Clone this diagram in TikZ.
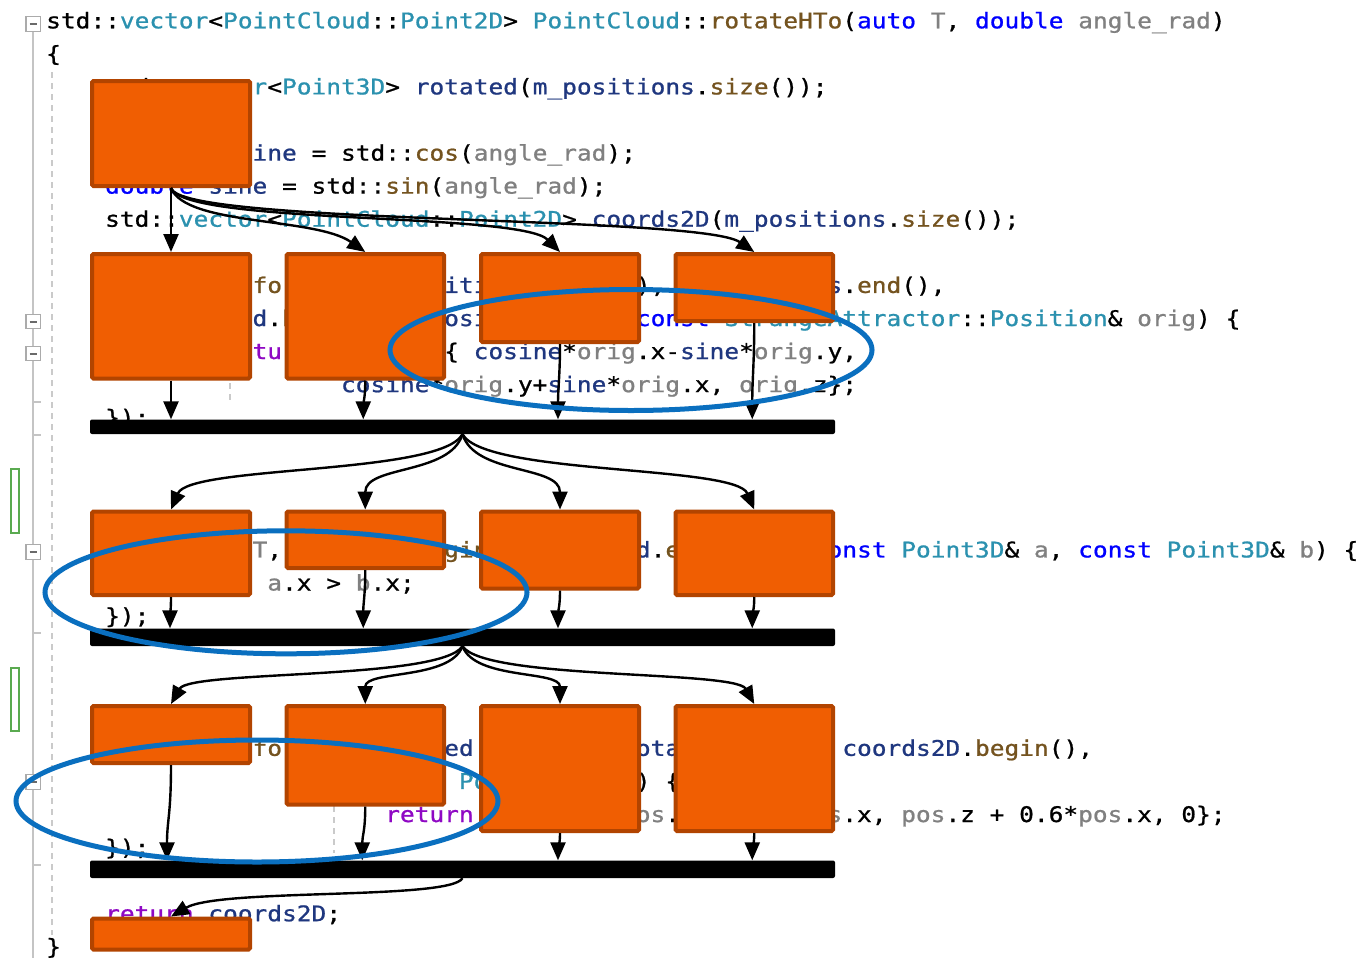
\documentclass[tikz,border=0pt]{standalone}
\usepackage{fontspec}
\usetikzlibrary{arrows.meta,shapes.geometric}
\newfontfamily\codefont{DejaVu Sans Mono}[FakeStretch=1.139, FakeBold=0.9]

\definecolor{kwblue}{HTML}{0000FF}
\definecolor{tyteal}{HTML}{2B91AF}
\definecolor{fnbrown}{HTML}{74531F}
\definecolor{pagray}{HTML}{808080}
\definecolor{lvnavy}{HTML}{1F377F}
\definecolor{rtpurple}{HTML}{8F08C4}
\definecolor{boxfill}{HTML}{F05E02}
\definecolor{boxedge}{HTML}{B24400}
\definecolor{ringblue}{HTML}{0A6FBF}
\definecolor{guttergray}{HTML}{C4C4C4}
\definecolor{guidegray}{HTML}{CACACA}
\definecolor{foldgray}{HTML}{ABABAB}
\definecolor{minusgray}{HTML}{6A6A6A}
\definecolor{changegreen}{HTML}{5AAA50}

% syntax colouring
\newcommand\cdkw[1]{\textcolor{kwblue}{#1}}
\newcommand\cdty[1]{\textcolor{tyteal}{#1}}
\newcommand\cdfn[1]{\textcolor{fnbrown}{#1}}
\newcommand\cdpa[1]{\textcolor{pagray}{#1}}
\newcommand\cdlv[1]{\textcolor{lvnavy}{#1}}
\newcommand\cdrt[1]{\textcolor{rtpurple}{#1}}

% task box / sync bar from corner coordinates
\newcommand\taskbox[5]{\node[obox, minimum width={(#4-#2-4)*1pt}, minimum height={(#5-#3-4)*1pt}] (#1) at ({(#2+#4)/2},{(#3+#5)/2}) {};}
\newcommand\syncbar[5]{\node[sbar, minimum width={(#4-#2)*1pt}, minimum height={(#5-#3)*1pt}] (#1) at ({(#2+#4)/2},{(#3+#5)/2}) {};}

\begin{document}
\begin{tikzpicture}[x=1pt,y=-1pt,
  obox/.style={rectangle, draw=boxedge, fill=boxfill, line width=4pt, rounded corners=1.5pt, inner sep=0pt},
  sbar/.style={rectangle, fill=black, rounded corners=2pt, inner sep=0pt},
  conn/.style={line width=2.4pt, -{Triangle[length=18pt,width=15pt]}},
  ring/.style={ellipse, draw=ringblue, line width=5pt, inner sep=0pt},
  code/.style={anchor=base west, inner sep=0pt, font=\codefont\fontsize{21.5}{25}\selectfont},
  fold/.style={rectangle, draw=foldgray, fill=white, line width=1.4pt, minimum size=14.5pt, inner sep=0pt},
  foldminus/.style={draw=minusgray, line width=2pt},
  guide/.style={draw=guidegray, line width=1.2pt, dash pattern=on 6pt off 5pt},
  gutter/.style={draw=guttergray, line width=2pt},
  changebar/.style={rectangle, draw=changegreen, fill=white, line width=1.8pt, minimum width=8pt, inner sep=0pt}
]
\useasboundingbox (0,0) rectangle (1367,958);
\fill[white] (0,0) rectangle (1367,958);

% ---- editor margin ----
\draw[guide] (52,72) -- (52,935);
\draw[guide] (230,372) -- (230,402);
\draw[guide] (334,806) -- (334,853);
\coordinate (gtop) at (33.3,30);
\coordinate (gbot) at (33.3,958);
\draw[gutter] (gtop) -- (gbot);
\draw[gutter] (33.3,402) -- (41,402);
\draw[gutter] (33.3,435) -- (41,435);
\draw[gutter] (33.3,633) -- (41,633);
\draw[gutter] (33.3,864.5) -- (41,864.5);
\foreach \n/\y in {f0/24, f9/321.5, f10/353.5, f16/552, f23/782}{
  \node[fold] (\n) at (33.3,\y) {};
  \draw[foldminus] ([xshift=-3.8pt]\n.center) -- ([xshift=3.8pt]\n.center);
}
\node[changebar, minimum height=64pt] (chg1) at (15,501) {};
\node[changebar, minimum height=63pt] (chg2) at (15,699.5) {};

% ---- source code ----
\node[code] (l0) at (46,28.3) {std::\cdty{vector}<\cdty{PointCloud}::\cdty{Point2D}> \cdty{PointCloud}::\cdfn{rotateHTo}(\cdkw{auto} \cdpa{T}, \cdkw{double} \cdpa{angle\_rad})};
\node[code] (l1) at (46,61.4) {\{};
\node[code] (l2) at (104.96,94.4) {std::\cdty{vector}<\cdty{Point3D}> \cdlv{rotated}(\cdlv{m\_positions}.\cdfn{size}());};
\node[code] (l4) at (104.96,160.6) {\cdkw{double} \cdlv{cosine} = std::\cdfn{cos}(\cdpa{angle\_rad});};
\node[code] (l5) at (104.96,193.6) {\cdkw{double} \cdlv{sine} = std::\cdfn{sin}(\cdpa{angle\_rad});};
\node[code] (l6) at (104.96,226.7) {std::\cdty{vector}<\cdty{PointCloud}::\cdty{Point2D}> \cdlv{coords2D}(\cdlv{m\_positions}.\cdfn{size}());};
\node[code] (l8) at (104.96,292.9) {std::\cdfn{transform}(\cdpa{T}, \cdlv{m\_positions}.\cdfn{begin}(), \cdlv{m\_positions}.\cdfn{end}(),};
\node[code] (l9) at (163.92,326) {\cdlv{rotated}.\cdfn{begin}(), [\cdlv{cosine}, \cdlv{sine}](\cdkw{const} \cdty{StrangeAttractor}::\cdty{Position}\& \cdpa{orig}) \{};
\node[code] (l10) at (222.88,359) {\cdrt{return} \cdty{Point3D} \{ \cdlv{cosine}*\cdpa{orig}.x-\cdlv{sine}*\cdpa{orig}.y,};
\node[code] (l11) at (340.8,392.1) {\cdlv{cosine}*\cdpa{orig}.y+\cdlv{sine}*\cdpa{orig}.x, \cdpa{orig}.z\};};
\node[code] (l12) at (104.96,425.1) {\});};
\node[code] (l16) at (104.96,557.4) {std::\cdfn{sort}(\cdpa{T}, \cdlv{rotated}.\cdfn{begin}(), \cdlv{rotated}.\cdfn{end}(), [](\cdkw{const} \cdty{Point3D}\& \cdpa{a}, \cdkw{const} \cdty{Point3D}\& \cdpa{b}) \{};
\node[code] (l17) at (163.92,590.5) {\cdrt{return} \cdpa{a}.x > \cdpa{b}.x;};
\node[code] (l18) at (104.96,623.6) {\});};
\node[code] (l22) at (104.96,755.8) {std::\cdfn{transform}(\cdpa{T}, \cdlv{rotated}.\cdfn{begin}(), \cdlv{rotated}.\cdfn{end}(), \cdlv{coords2D}.\cdfn{begin}(),};
\node[code] (l23) at (326.06,788.9) {[](\cdkw{const} \cdty{Point3D}\& \cdpa{pos}) \{};
\node[code] (l24) at (385.02,822) {\cdrt{return} \cdty{Point2D}\{ \cdpa{pos}.y + 0.3*\cdpa{pos}.x, \cdpa{pos}.z + 0.6*\cdpa{pos}.x, 0\};};
\node[code] (l25) at (104.96,855) {\});};
\node[code] (l27) at (104.96,921.2) {\cdrt{return} \cdlv{coords2D};};
\node[code] (l28) at (46,954.3) {\}};

% ---- task graph ----
\taskbox{A}{90}{79}{252}{188}
\taskbox{B1}{90}{252}{252}{380.5}
\taskbox{B2}{284.5}{252}{446}{380.5}
\taskbox{B3}{479}{252}{641}{344}
\taskbox{B4}{673.5}{252}{835}{323}
\syncbar{bar1}{90}{419.5}{835}{434}
\taskbox{C1}{90}{509.5}{252}{597}
\taskbox{C2}{284.5}{509.5}{446}{570}
\taskbox{C3}{479}{509.5}{641}{590.5}
\taskbox{C4}{673.5}{509.5}{835}{597}
\syncbar{bar2}{90}{628.5}{835}{646}
\taskbox{D1}{90}{704}{252}{765}
\taskbox{D2}{284.5}{704}{446}{806.5}
\taskbox{D3}{479}{704}{641}{833}
\taskbox{D4}{673.5}{704}{835}{833}
\syncbar{bar3}{90}{860.5}{835}{878}
\taskbox{E}{90}{916.5}{252}{951.5}

% fork from the first task
\draw[conn] (A.south) -- (B1.north);
\draw[conn] (A.south) .. controls +(15,38) and +(-50,-35) .. (B2.north);
\draw[conn] (A.south) .. controls +(14,37) and +(-40,-40) .. (B3.north);
\draw[conn] (A.south) .. controls +(9,37) and +(-54,-37) .. (B4.north);
% join into first barrier
\draw[conn] (B1.south) -- (B1.south |- bar1.north);
\draw[conn] (B2.south) .. controls +(0,18) and +(0,-16) .. ([xshift=-2pt]B2.south |- bar1.north);
\draw[conn] (B3.south) .. controls +(0,30) and +(0,-30) .. ([xshift=-2pt]B3.south |- bar1.north);
\draw[conn] (B4.south) .. controls +(0,40) and +(0,-40) .. ([xshift=-2pt]B4.south |- bar1.north);
% fork from first barrier
\draw[conn] (bar1.south) .. controls +(-22.5,41) and +(19,-44.5) .. (C1.north);
\draw[conn] (bar1.south) .. controls +(-12.5,41) and +(0,-44.5) .. (C2.north);
\draw[conn] (bar1.south) .. controls +(12.5,41) and +(0,-44.5) .. (C3.north);
\draw[conn] (bar1.south) .. controls +(22.5,41) and +(-19,-44.5) .. (C4.north);
% join into second barrier
\draw[conn] (C1.south) .. controls +(0,14) and +(0,-14) .. ([xshift=-1pt]C1.south |- bar2.north);
\draw[conn] (C2.south) .. controls +(0,25) and +(0,-25) .. ([xshift=-2pt]C2.south |- bar2.north);
\draw[conn] (C3.south) .. controls +(0,16) and +(0,-16) .. ([xshift=-2pt]C3.south |- bar2.north);
\draw[conn] (C4.south) .. controls +(0,14) and +(0,-14) .. ([xshift=-2pt]C4.south |- bar2.north);
% fork from second barrier
\draw[conn] (bar2.south) .. controls +(-22.5,34) and +(19,-34) .. (D1.north);
\draw[conn] (bar2.south) .. controls +(-12.5,34) and +(0,-34) .. (D2.north);
\draw[conn] (bar2.south) .. controls +(12.5,34) and +(0,-34) .. (D3.north);
\draw[conn] (bar2.south) .. controls +(22.5,34) and +(-19,-34) .. (D4.north);
% join into third barrier
\draw[conn] (D1.south) .. controls +(0,50) and +(0,-40) .. ([xshift=-4pt]D1.south |- bar3.north);
\draw[conn] (D2.south) .. controls +(0,25) and +(0,-25) .. ([xshift=-3pt]D2.south |- bar3.north);
\draw[conn] (D3.south) .. controls +(0,12) and +(0,-12) .. ([xshift=-2pt]D3.south |- bar3.north);
\draw[conn] (D4.south) .. controls +(0,12) and +(0,-12) .. ([xshift=-2pt]D4.south |- bar3.north);
% to the final task
\draw[conn] (bar3.south) .. controls +(-12.5,22) and +(49,-28.5) .. (E.north);

% ---- highlight rings ----
\node[ring, minimum width=482pt, minimum height=121pt] (ring1) at (631,350) {};
\node[ring, minimum width=482pt, minimum height=123pt] (ring2) at (286,592.3) {};
\node[ring, minimum width=482pt, minimum height=122pt] (ring3) at (257,801) {};
\end{tikzpicture}
\end{document}
